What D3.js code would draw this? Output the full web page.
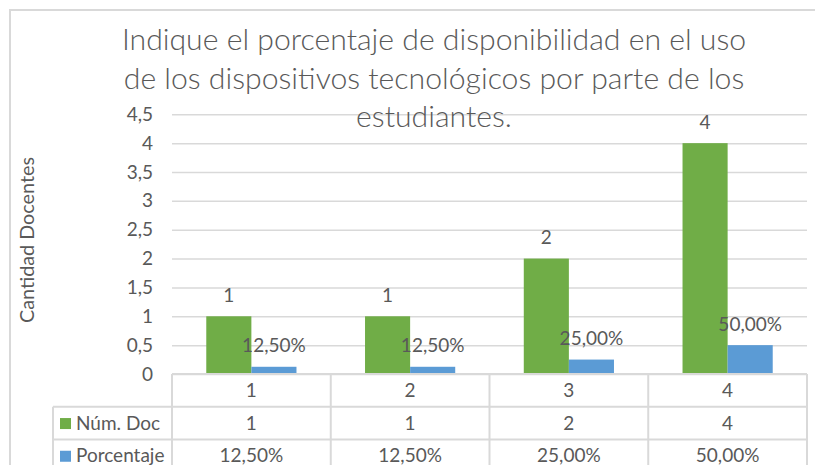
<!DOCTYPE html>
<html>
<head>
<meta charset="utf-8">
<script src="https://cdn.jsdelivr.net/npm/d3@7"></script>
<style>
  body { margin: 0; background: #fff; }
  text { font-family: Lato, "Open Sans", "DejaVu Sans", sans-serif; fill: #595959; }
</style>
</head>
<body>
<div id="chart"></div>
<script>
// data
const categories = ["1", "2", "3", "4"];
const seriesNames = ["Núm. Doc", "Porcentaje"];
const numDoc = [1, 1, 2, 4];
const porcentaje = [0.125, 0.125, 0.25, 0.5];
const yTicks = [0, 0.5, 1, 1.5, 2, 2.5, 3, 3.5, 4, 4.5];
const titleLines = ["Indique el porcentaje de disponibilidad en el uso",
                    "de los dispositivos tecnológicos por parte de los",
                    "estudiantes."];
const colors = ["#70ad47", "#5b9bd5"];

const width = 815, height = 465,
      margin = ({ top: 114.3, right: 8, bottom: 91, left: 172 });

const es = d3.formatLocale({ decimal: ",", thousands: ".", grouping: [3], currency: ["", "€"] });
const fmtNum = es.format("~g");
const fmtPct = es.format(".2%");

let svg = d3.select("#chart")
    .append("svg")
    .attr("width", width)
    .attr("height", height);

// outer frame (cut off at right and bottom)
svg.append("path")
    .attr("d", `M10,${height + 5} V10 H${width + 5}`)
    .attr("fill", "none")
    .attr("stroke", "#d9d9d9")
    .attr("stroke-width", 2);

let x = d3.scaleBand()
    .domain(categories)
    .range([margin.left, width - margin.right]);

// series inside each category
let xs = d3.scaleBand()
    .domain(seriesNames)
    .range([0, x.bandwidth()])
    .paddingInner(0)
    .paddingOuter(0.76);

let y = d3.scaleLinear()
    .domain([0, 4.5])
    .range([height - margin.bottom, margin.top]);

// gridlines + tick labels
let yAxis = svg.append("g")
    .attr("transform", `translate(${margin.left},0)`)
    .call(d3.axisLeft(y).tickValues(yTicks).tickFormat(fmtNum)
        .tickSize(-(width - margin.right - margin.left)).tickPadding(19));
yAxis.select(".domain").remove();
yAxis.selectAll(".tick line").attr("stroke", "#d9d9d9").attr("stroke-width", 1.5);
yAxis.selectAll(".tick text")
    .style("font-size", "19px")
    .style("font-family", "Lato, 'Open Sans', sans-serif")
    .attr("fill", "#595959");

// title
svg.append("text")
    .attr("text-anchor", "middle")
    .style("font-size", "30.2px")
    .style("font-weight", 300)
    .selectAll("tspan")
    .data(titleLines)
    .join("tspan")
    .attr("x", 434)
    .attr("y", (d, i) => 50 + i * 38.7)
    .text(d => d);

// y axis title
svg.append("text")
    .attr("transform", "translate(34,240) rotate(-90)")
    .attr("text-anchor", "middle")
    .style("font-size", "19.8px")
    .text("Cantidad Docentes");

const series = [numDoc, porcentaje];
const labels = [numDoc.map(d => fmtNum(d)), porcentaje.map(d => fmtPct(d))];

let bars = svg.append("g");
seriesNames.forEach((s, si) => {
    let g = bars.append("g");
    g.selectAll("rect")
        .data(categories)
        .join("rect")
        .attr("fill", colors[si])
        .attr("x", (c) => x(c) + xs(s))
        .attr("width", xs.bandwidth())
        .attr("y", (c, i) => y(series[si][i]))
        .attr("height", (c, i) => y(0) - y(series[si][i]));
    g.selectAll("text")
        .data(categories)
        .join("text")
        .attr("text-anchor", "middle")
        .attr("x", (c) => x(c) + xs(s) + xs.bandwidth() / 2)
        .attr("y", (c, i) => y(series[si][i]) - 14.5)
        .style("font-size", "19px")
        .text((c, i) => labels[si][i]);
});

// data table below the plot
const rowH = 32.7;
const y0 = y(0);
const tableLeft = 53;
let table = svg.append("g")
    .attr("stroke", "#d9d9d9")
    .attr("stroke-width", 2);
// horizontal lines
table.append("line")
    .attr("x1", margin.left).attr("x2", width - margin.right)
    .attr("y1", y0).attr("y2", y0);
[1, 2, 3].forEach(r => {
    table.append("line")
        .attr("x1", tableLeft).attr("x2", width - margin.right)
        .attr("y1", y0 + r * rowH).attr("y2", y0 + r * rowH);
});
// vertical lines
categories.concat(["end"]).forEach((c, i) => {
    let xx = i < categories.length ? x(c) : x(categories[categories.length - 1]) + x.bandwidth();
    table.append("line")
        .attr("x1", xx).attr("x2", xx)
        .attr("y1", y0).attr("y2", height + 5);
});
table.append("line")
    .attr("x1", tableLeft).attr("x2", tableLeft)
    .attr("y1", y0 + rowH).attr("y2", height + 5);

const cellFont = "19px";
// category row
svg.append("g").selectAll("text")
    .data(categories)
    .join("text")
    .attr("text-anchor", "middle")
    .attr("x", c => x(c) + x.bandwidth() / 2)
    .attr("y", y0 + rowH / 2 + 6.5)
    .style("font-size", cellFont)
    .text(c => c);

// series rows
seriesNames.forEach((s, si) => {
    let rowY = y0 + rowH * (si + 1);
    let g = svg.append("g");
    g.append("rect")
        .attr("x", 60)
        .attr("y", rowY + rowH / 2 - 5)
        .attr("width", 11)
        .attr("height", 11)
        .attr("fill", colors[si]);
    g.append("text")
        .attr("x", 76)
        .attr("y", rowY + rowH / 2 + 6.5)
        .style("font-size", cellFont)
        .text(s);
    g.selectAll(".cell")
        .data(categories)
        .join("text")
        .attr("class", "cell")
        .attr("text-anchor", "middle")
        .attr("x", c => x(c) + x.bandwidth() / 2)
        .attr("y", rowY + rowH / 2 + 6.5)
        .style("font-size", cellFont)
        .text((c, i) => labels[si][i]);
});
</script>
</body>
</html>
